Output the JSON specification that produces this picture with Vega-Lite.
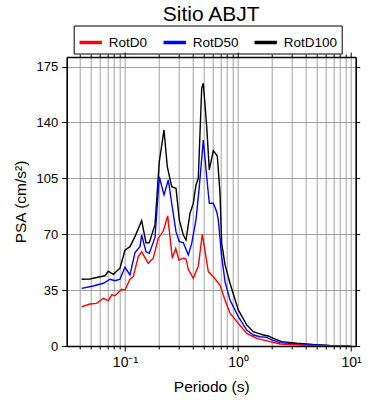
{
  "$schema": "https://vega.github.io/schema/vega-lite/v6.json",
  "width": 289,
  "height": 289,
  "autosize": "none",
  "padding": {"left": 66.7, "top": 57, "right": 34.3, "bottom": 54},
  "title": {"text": "Sitio ABJT", "fontSize": 21, "fontWeight": "normal", "font": "Liberation Sans", "color": "black", "anchor": "middle", "offset": 0},
  "config": {
    "font": "Liberation Sans",
    "view": {"stroke": null},
    "axis": {"domainColor": "black", "domainWidth": 1.6, "tickColor": "black", "labelColor": "black", "titleColor": "black", "labelFontSize": 13, "titleFontSize": 15.5, "titleFontWeight": "normal", "gridColor": "#8c8c8c", "gridWidth": 0.8, "gridOpacity": 1}
  },
  "data": {"values": [
    {"T": 0.0414, "v": 41.8, "c": "RotD100"},
    {"T": 0.049, "v": 42.0, "c": "RotD100"},
    {"T": 0.0601, "v": 43.4, "c": "RotD100"},
    {"T": 0.0665, "v": 44.0, "c": "RotD100"},
    {"T": 0.0712, "v": 46.8, "c": "RotD100"},
    {"T": 0.0788, "v": 44.9, "c": "RotD100"},
    {"T": 0.0903, "v": 48.7, "c": "RotD100"},
    {"T": 0.1, "v": 60.0, "c": "RotD100"},
    {"T": 0.1107, "v": 62.2, "c": "RotD100"},
    {"T": 0.1226, "v": 68.5, "c": "RotD100"},
    {"T": 0.1405, "v": 78.5, "c": "RotD100"},
    {"T": 0.1534, "v": 64.7, "c": "RotD100"},
    {"T": 0.1641, "v": 64.7, "c": "RotD100"},
    {"T": 0.1843, "v": 76.0, "c": "RotD100"},
    {"T": 0.2012, "v": 115.5, "c": "RotD100"},
    {"T": 0.2214, "v": 135.3, "c": "RotD100"},
    {"T": 0.2368, "v": 112.3, "c": "RotD100"},
    {"T": 0.259, "v": 99.8, "c": "RotD100"},
    {"T": 0.2827, "v": 98.8, "c": "RotD100"},
    {"T": 0.3024, "v": 79.0, "c": "RotD100"},
    {"T": 0.3281, "v": 69.5, "c": "RotD100"},
    {"T": 0.3467, "v": 66.4, "c": "RotD100"},
    {"T": 0.3761, "v": 83.1, "c": "RotD100"},
    {"T": 0.4022, "v": 89.4, "c": "RotD100"},
    {"T": 0.4249, "v": 100.9, "c": "RotD100"},
    {"T": 0.4453, "v": 105.0, "c": "RotD100"},
    {"T": 0.4774, "v": 161.4, "c": "RotD100"},
    {"T": 0.4932, "v": 164.6, "c": "RotD100"},
    {"T": 0.5285, "v": 137.4, "c": "RotD100"},
    {"T": 0.5572, "v": 110.3, "c": "RotD100"},
    {"T": 0.6045, "v": 122.4, "c": "RotD100"},
    {"T": 0.6559, "v": 119.0, "c": "RotD100"},
    {"T": 0.6929, "v": 95.7, "c": "RotD100"},
    {"T": 0.7173, "v": 64.3, "c": "RotD100"},
    {"T": 0.7674, "v": 51.0, "c": "RotD100"},
    {"T": 0.8496, "v": 39.3, "c": "RotD100"},
    {"T": 1.006, "v": 22.6, "c": "RotD100"},
    {"T": 1.194, "v": 13.2, "c": "RotD100"},
    {"T": 1.366, "v": 9.0, "c": "RotD100"},
    {"T": 1.512, "v": 7.9, "c": "RotD100"},
    {"T": 1.675, "v": 6.9, "c": "RotD100"},
    {"T": 1.854, "v": 6.3, "c": "RotD100"},
    {"T": 2.053, "v": 4.8, "c": "RotD100"},
    {"T": 2.436, "v": 2.7, "c": "RotD100"},
    {"T": 3.308, "v": 1.7, "c": "RotD100"},
    {"T": 4.61, "v": 0.9, "c": "RotD100"},
    {"T": 6.5, "v": 0.4, "c": "RotD100"},
    {"T": 10, "v": 0.1, "c": "RotD100"},
    {"T": 0.0414, "v": 36.1, "c": "RotD50"},
    {"T": 0.0524, "v": 37.6, "c": "RotD50"},
    {"T": 0.0643, "v": 39.3, "c": "RotD50"},
    {"T": 0.0737, "v": 41.8, "c": "RotD50"},
    {"T": 0.0816, "v": 40.9, "c": "RotD50"},
    {"T": 0.0903, "v": 41.8, "c": "RotD50"},
    {"T": 0.1, "v": 49.3, "c": "RotD50"},
    {"T": 0.1107, "v": 44.5, "c": "RotD50"},
    {"T": 0.1226, "v": 58.5, "c": "RotD50"},
    {"T": 0.1357, "v": 62.2, "c": "RotD50"},
    {"T": 0.1405, "v": 69.5, "c": "RotD50"},
    {"T": 0.1534, "v": 59.0, "c": "RotD50"},
    {"T": 0.1641, "v": 58.0, "c": "RotD50"},
    {"T": 0.1843, "v": 68.0, "c": "RotD50"},
    {"T": 0.2012, "v": 106.0, "c": "RotD50"},
    {"T": 0.2214, "v": 94.6, "c": "RotD50"},
    {"T": 0.2416, "v": 104.0, "c": "RotD50"},
    {"T": 0.259, "v": 89.4, "c": "RotD50"},
    {"T": 0.2827, "v": 71.6, "c": "RotD50"},
    {"T": 0.3024, "v": 65.3, "c": "RotD50"},
    {"T": 0.3281, "v": 64.7, "c": "RotD50"},
    {"T": 0.3633, "v": 57.0, "c": "RotD50"},
    {"T": 0.3894, "v": 64.3, "c": "RotD50"},
    {"T": 0.4249, "v": 79.0, "c": "RotD50"},
    {"T": 0.4545, "v": 99.8, "c": "RotD50"},
    {"T": 0.4932, "v": 129.0, "c": "RotD50"},
    {"T": 0.5285, "v": 106.0, "c": "RotD50"},
    {"T": 0.5572, "v": 89.4, "c": "RotD50"},
    {"T": 0.6045, "v": 89.4, "c": "RotD50"},
    {"T": 0.6479, "v": 84.1, "c": "RotD50"},
    {"T": 0.6694, "v": 79.0, "c": "RotD50"},
    {"T": 0.7173, "v": 56.0, "c": "RotD50"},
    {"T": 0.7674, "v": 40.3, "c": "RotD50"},
    {"T": 0.8496, "v": 28.8, "c": "RotD50"},
    {"T": 1.006, "v": 18.4, "c": "RotD50"},
    {"T": 1.194, "v": 10.0, "c": "RotD50"},
    {"T": 1.366, "v": 6.9, "c": "RotD50"},
    {"T": 1.566, "v": 5.8, "c": "RotD50"},
    {"T": 1.795, "v": 5.4, "c": "RotD50"},
    {"T": 1.987, "v": 3.8, "c": "RotD50"},
    {"T": 2.353, "v": 2.1, "c": "RotD50"},
    {"T": 3.308, "v": 1.25, "c": "RotD50"},
    {"T": 4.61, "v": 0.6, "c": "RotD50"},
    {"T": 6.5, "v": 0.2, "c": "RotD50"},
    {"T": 10, "v": 0.1, "c": "RotD50"},
    {"T": 0.0414, "v": 24.6, "c": "RotD0"},
    {"T": 0.049, "v": 26.3, "c": "RotD0"},
    {"T": 0.0562, "v": 26.7, "c": "RotD0"},
    {"T": 0.0643, "v": 29.9, "c": "RotD0"},
    {"T": 0.0712, "v": 28.4, "c": "RotD0"},
    {"T": 0.0763, "v": 32.0, "c": "RotD0"},
    {"T": 0.0816, "v": 31.5, "c": "RotD0"},
    {"T": 0.0935, "v": 35.5, "c": "RotD0"},
    {"T": 0.1, "v": 35.1, "c": "RotD0"},
    {"T": 0.1107, "v": 41.8, "c": "RotD0"},
    {"T": 0.1184, "v": 43.4, "c": "RotD0"},
    {"T": 0.1311, "v": 56.0, "c": "RotD0"},
    {"T": 0.1405, "v": 59.0, "c": "RotD0"},
    {"T": 0.1608, "v": 51.8, "c": "RotD0"},
    {"T": 0.178, "v": 55.0, "c": "RotD0"},
    {"T": 0.1971, "v": 67.5, "c": "RotD0"},
    {"T": 0.2183, "v": 72.0, "c": "RotD0"},
    {"T": 0.2387, "v": 81.5, "c": "RotD0"},
    {"T": 0.2622, "v": 55.0, "c": "RotD0"},
    {"T": 0.281, "v": 61.0, "c": "RotD0"},
    {"T": 0.3006, "v": 53.9, "c": "RotD0"},
    {"T": 0.3281, "v": 55.0, "c": "RotD0"},
    {"T": 0.3467, "v": 54.5, "c": "RotD0"},
    {"T": 0.3633, "v": 48.0, "c": "RotD0"},
    {"T": 0.4022, "v": 42.4, "c": "RotD0"},
    {"T": 0.4453, "v": 50.0, "c": "RotD0"},
    {"T": 0.4833, "v": 70.0, "c": "RotD0"},
    {"T": 0.5462, "v": 46.6, "c": "RotD0"},
    {"T": 0.6045, "v": 43.4, "c": "RotD0"},
    {"T": 0.6929, "v": 38.2, "c": "RotD0"},
    {"T": 0.7674, "v": 28.8, "c": "RotD0"},
    {"T": 0.8496, "v": 20.5, "c": "RotD0"},
    {"T": 1.006, "v": 14.2, "c": "RotD0"},
    {"T": 1.194, "v": 7.9, "c": "RotD0"},
    {"T": 1.464, "v": 4.8, "c": "RotD0"},
    {"T": 1.92, "v": 2.7, "c": "RotD0"},
    {"T": 2.353, "v": 1.25, "c": "RotD0"},
    {"T": 4.61, "v": 0.2, "c": "RotD0"},
    {"T": 10, "v": 0.05, "c": "RotD0"}
  ]},
  "layer": [
    {
      "mark": {"type": "line", "strokeWidth": 1.4, "clip": true},
      "encoding": {
        "x": {"field": "T", "type": "quantitative",
          "scale": {"type": "log", "domain": [0.0305, 11], "nice": false},
          "axis": {"orient": "bottom", "title": "Periodo (s)", "titlePadding": 10,
            "values": [0.04,0.05,0.06,0.07,0.08,0.09,0.1,0.2,0.3,0.4,0.5,0.6,0.7,0.8,0.9,1,2,3,4,5,6,7,8,9,10],
            "labelExpr": "datum.value == 0.1 ? '10⁻¹' : datum.value == 1 ? '10⁰' : datum.value == 10 ? '10¹' : ''",
            "labelOverlap": false, "labelFlush": false, "labelPadding": 4, "labelFontSize": 14,
            "tickSize": {"condition": {"test": "datum.value == 0.1 || datum.value == 1 || datum.value == 10", "value": 5}, "value": 3},
            "grid": true}},
        "y": {"field": "v", "type": "quantitative",
          "scale": {"domain": [0, 181], "nice": false},
          "axis": {"orient": "left", "title": "PSA (cm/s²)", "values": [0,35,70,105,140,175], "tickSize": 5, "labelPadding": 4, "titlePadding": 8, "grid": true}},
        "color": {"field": "c", "type": "nominal",
          "scale": {"domain": ["RotD0","RotD50","RotD100"], "range": ["#ff0000","#0000ff","#000000"]},
          "legend": {"title": null, "orient": "none", "legendX": 7, "legendY": -31.5, "direction": "horizontal",
            "symbolType": "stroke", "symbolSize": 500, "symbolStrokeWidth": 3.5, "labelFontSize": 13.5, "labelColor": "black",
            "labelOffset": 5, "columnPadding": 8, "padding": 4, "strokeColor": "black"}}
      }
    },
    {
      "mark": {"type": "line", "strokeOpacity": 0},
      "encoding": {
        "x": {"field": "T", "type": "quantitative",
          "axis": {"orient": "top", "title": null, "labels": false, "grid": false,
            "values": [0.04,0.05,0.06,0.07,0.08,0.09,0.1,0.2,0.3,0.4,0.5,0.6,0.7,0.8,0.9,1,2,3,4,5,6,7,8,9,10],
            "tickSize": {"condition": {"test": "datum.value == 0.1 || datum.value == 1 || datum.value == 10", "value": 5}, "value": 3}}},
        "y": {"field": "v", "type": "quantitative",
          "axis": {"orient": "right", "title": null, "labels": false, "grid": false, "values": [0,35,70,105,140,175], "tickSize": 4}}
      }
    }
  ],
  "resolve": {"axis": {"x": "independent", "y": "independent"}}
}
